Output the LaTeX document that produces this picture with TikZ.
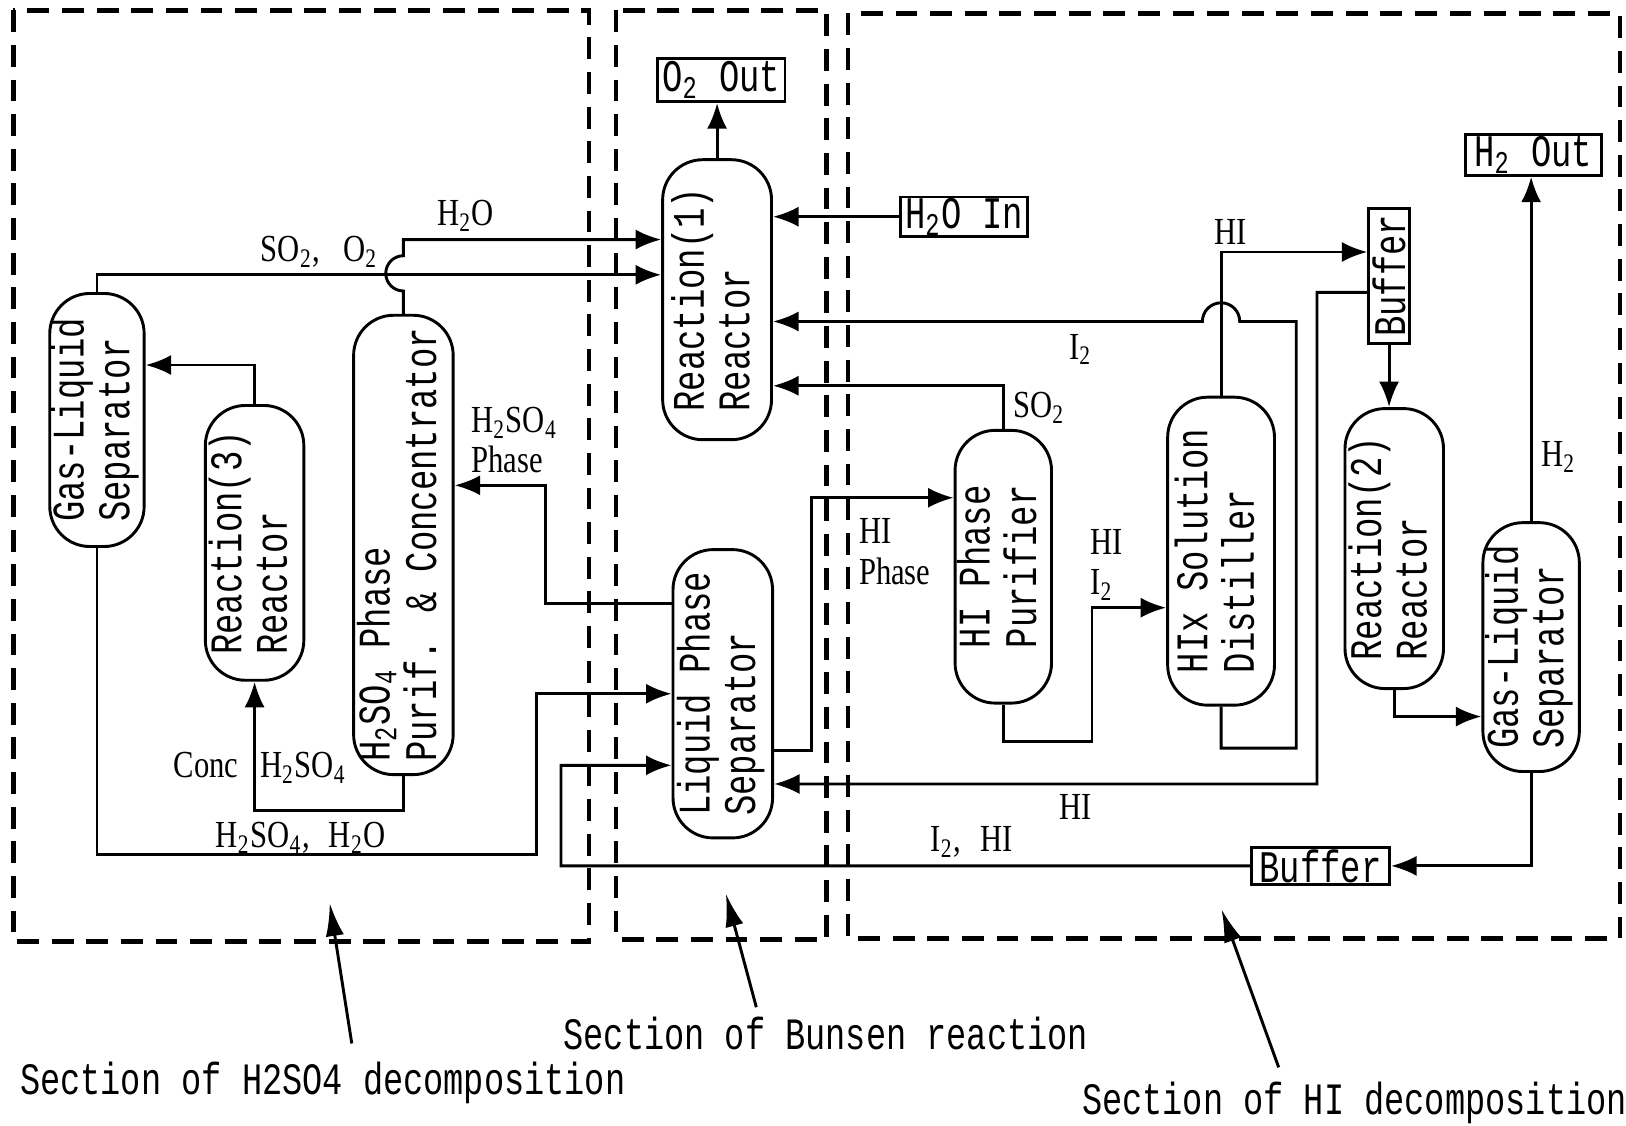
\documentclass[tikz,border=0pt]{standalone}
\usepackage{fontspec}
\setmainfont{Liberation Serif}
\newfontfamily\monofnt[FakeStretch=0.75]{Liberation Mono}
\newfontfamily\serfnt[FakeStretch=0.8]{Liberation Serif}
\usetikzlibrary{arrows.meta}
\newcommand{\chsub}[1]{\textsubscript{#1}}
\newcommand{\vlab}[1]{\rotatebox{90}{\begin{tabular}{@{}l@{}}#1\end{tabular}}}

\begin{document}
\begin{tikzpicture}[thick,
    vessel/.style={draw,rounded corners=11pt,inner sep=0pt,font=\monofnt\fontsize{12.4}{12.5}\selectfont},
    tag/.style={draw,inner sep=0pt,font=\monofnt\fontsize{12.4}{12.5}\selectfont},
    stream/.style={inner sep=0pt,font=\serfnt\fontsize{10.5}{11}\selectfont},
    caption/.style={anchor=base west,inner sep=0pt,font=\monofnt\fontsize{12.3}{13}\selectfont},
    sect/.style={line width=1.2pt,dash pattern=on 6pt off 3.5pt},
    flow/.style={-{Latex[length=7pt,width=5.5pt]}},
    pointer/.style={-{Latex[length=9pt,width=5pt]}}]

        \useasboundingbox (0,0) rectangle (15.68,-10.85);
        % \draw (0,0) rectangle (15.68,-10.85);
        \draw[sect] (0.13,-0.10) rectangle (5.68,-9.08);
        \draw[sect] (5.94,-0.10) rectangle (7.97,-9.06);
        \draw[sect] (8.18,-0.13) rectangle (15.62,-9.05);

        \node[tag,minimum width=1.23cm,minimum height=0.42cm] (o2out) at (6.955,-0.77) {O\chsub{2} Out};
        \node[vessel,minimum width=1.05cm,minimum height=2.70cm] (rx1) at (6.915,-2.89) {\vlab{Reaction(1)\\Reactor}};
        \node[tag,minimum width=1.23cm,minimum height=0.38cm] (h2oin) at (9.295,-2.09) {H\chsub{2}O In};
        \node[vessel,minimum width=0.96cm,minimum height=2.78cm] (lps) at (6.97,-6.69) {\vlab{Liquid Phase\\Separator}};
        \node[vessel,minimum width=0.91cm,minimum height=2.44cm] (gls1) at (0.935,-4.05) {\vlab{Gas-Liquid\\Separator}};
        \node[vessel,minimum width=0.95cm,minimum height=2.65cm] (rx3) at (2.455,-5.235) {\vlab{Reaction(3)\\Reactor}};
        \node[vessel,minimum width=0.96cm,minimum height=4.43cm] (conc) at (3.89,-5.255) {\vlab{H\chsub{2}SO\chsub{4} Phase\\Purif. \& Concentrator}};
        \node[vessel,minimum width=0.93cm,minimum height=2.63cm] (hipur) at (9.675,-5.465) {\vlab{HI Phase\\Purifier}};
        \node[vessel,minimum width=1.03cm,minimum height=2.97cm] (hix) at (11.775,-5.315) {\vlab{HIx Solution\\Distiller}};
        \node[tag,minimum width=0.39cm,minimum height=1.30cm] (buf1) at (13.395,-2.66) {\rotatebox{90}{Buffer}};
        \node[vessel,minimum width=0.95cm,minimum height=2.70cm] (rx2) at (13.445,-5.29) {\vlab{Reaction(2)\\Reactor}};
        \node[vessel,minimum width=0.93cm,minimum height=2.40cm] (gls2) at (14.765,-6.24) {\vlab{Gas-Liquid\\Separator}};
        \node[tag,minimum width=1.31cm,minimum height=0.39cm] (h2out) at (14.785,-1.495) {H\chsub{2} Out};
        \node[tag,minimum width=1.33cm,minimum height=0.36cm] (buf2) at (12.735,-8.35) {Buffer};

        \draw[flow] (rx1.north) -- (rx1.north |- o2out.south);
        \draw[flow] (h2oin.west) -- (rx1.east |- h2oin.west);
        \draw[flow] (conc.north) -- ++(0,0.22) arc[start angle=270,end angle=90,radius=0.17] |- ([yshift=5.8mm]rx1.west);
        \draw[flow] (gls1.north) |- ([yshift=2.4mm]rx1.west);
        \draw[flow] (rx3.north) |- ([yshift=5.3mm]gls1.east);
        \draw[flow] (conc.south) -- ++(0,-0.33) -| (rx3.south);
        \draw[flow] ([yshift=8.7mm]lps.west) -- ++(-1.22,0) |- ([yshift=5.75mm]conc.east);
        \draw[flow] (gls1.south) |- (5.17,-8.24) |- (lps.west);
        \draw[flow] (buf2.west) -| (5.41,-7.38) -- ([yshift=-6.9mm]lps.west);
        \draw[flow] ([yshift=-5.5mm]lps.east) -- ++(0.36,0) |- ([yshift=6.65mm]hipur.west);
        \draw[flow] ([yshift=-1.6mm]buf1.west) -| (12.70,-7.56) -- ([yshift=-8.7mm]lps.east);
        \draw[flow] (hipur.north) |- ([yshift=-8.3mm]rx1.east);
        \draw[flow] (hix.south) -- ++(0,-0.40) -| (12.50,-3.10) -- (11.955,-3.10) arc[start angle=0,end angle=180,radius=0.18] -- ([yshift=-2.1mm]rx1.east);
        \draw[flow] (hix.north) |- ([yshift=2.3mm]buf1.west);
        \draw[flow] (hipur.south) |- (10.53,-7.15) |- ([yshift=-5.45mm]hix.west);
        \draw[flow] (buf1.south) -- (buf1.south |- rx2.north);
        \draw[flow] (rx2.south) |- ([yshift=-6.7mm]gls2.west);
        \draw[flow] (gls2.north) -- (gls2.north |- h2out.south);
        \draw[flow] (gls2.south) |- (buf2.east);

        \node[stream] (so2o2) at (3.08,-2.43) {SO\chsub{2},\hspace{.6em}O\chsub{2}};
        \node[stream] (h2oa) at (4.49,-2.08) {H\chsub{2}O};
        \node[stream,align=left,anchor=west] (h2so4ph) at (4.53,-4.24) {H\chsub{2}SO\chsub{4}\\Phase};
        \node[stream,anchor=west] (conch2so4) at (1.66,-7.40) {Conc\hspace{6pt}H\chsub{2}SO\chsub{4}};
        \node[stream] (h2so4h2o) at (2.90,-8.08) {H\chsub{2}SO\chsub{4},\hspace{.5em}H\chsub{2}O};
        \node[stream,align=left,anchor=west] (hiph) at (8.27,-5.32) {HI\\Phase};
        \node[stream] (so2b) at (10.02,-3.93) {SO\chsub{2}};
        \node[stream] (i2a) at (10.42,-3.37) {I\chsub{2}};
        \node[stream] (hia) at (11.87,-2.24) {HI};
        \node[stream,align=left] (hii2) at (10.67,-5.45) {HI\\I\chsub{2}};
        \node[stream] (hib) at (10.37,-7.78) {HI};
        \node[stream] (i2hi) at (9.37,-8.12) {I\chsub{2},\hspace{.5em}HI};
        \node[stream] (h2lab) at (15.03,-4.41) {H\chsub{2}};

        \coordinate (tip1) at (3.18,-8.71);
        \coordinate (tip2) at (7.00,-8.62);
        \coordinate (tip3) at (11.78,-8.77);
        \node[caption] (cap1) at (0.18,-10.55) {Section of H2SO4 decomposition};
        \node[caption] (cap2) at (5.42,-10.12) {Section of Bunsen reaction};
        \node[caption] (cap3) at (10.42,-10.75) {Section of HI decomposition};
        \draw[pointer] ([xshift=2.8mm,yshift=1.6mm]cap1.north) -- (tip1);
        \draw[pointer] ([xshift=-6.7mm,yshift=0.8mm]cap2.north) -- (tip2);
        \draw[pointer] ([xshift=-7.3mm,yshift=1.3mm]cap3.north) -- (tip3);
\end{tikzpicture}
\end{document}
